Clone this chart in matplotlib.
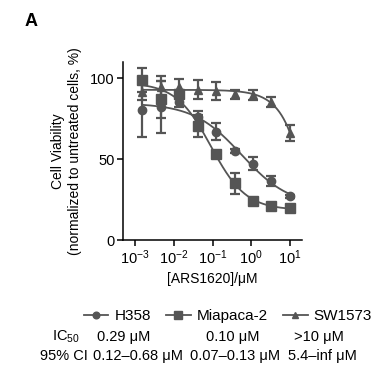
import numpy as np
import matplotlib
matplotlib.use("Agg")
import matplotlib.pyplot as plt
from matplotlib.lines import Line2D

plt.rcParams['font.family'] = ['Liberation Sans', 'DejaVu Sans']
plt.rcParams['mathtext.fontset'] = 'custom'
plt.rcParams['mathtext.rm'] = 'Liberation Sans'

# ---- data ----
conc = [0.00152, 0.00457, 0.0137, 0.0412, 0.123, 0.370, 1.11, 3.33, 10.0]
h358 = [80.5, 82, 85, 76, 67, 55, 47, 36.5, 27]
h358_err = [17, 16, 3, 4, 5, 1.5, 4, 3, 1]
mia = [99, 87, 90, 70.5, 53, 35, 24, 21, 20]
mia_err = [7.5, 11.5, 3, 7, 1.5, 6.5, 2, 1, 1]
sw = [91.5, 94.5, 94.5, 93, 92, 90, 89.5, 85.5, 66]
sw_err = [5, 7, 5, 6, 5.5, 3, 3, 3, 5]

series_names = ["H358", "Miapaca-2", "SW1573"]
ic50_text = ["0.29 μM", "0.10 μM", ">10 μM"]
ci_text = ["0.12–0.68 μM", "0.07–0.13 μM", "5.4–inf μM"]

color = "#555555"


def fit4pl(x, y):
    lx = np.log10(np.asarray(x))
    y = np.asarray(y, float)
    x0s = np.arange(-3.0, 2.5, 0.01)
    hs = np.arange(0.3, 3.0, 0.01)
    best = None
    for h in hs:
        s = 1.0 / (1.0 + 10 ** (h * (lx[None, :] - x0s[:, None])))
        a = 1 - s
        b = s
        saa = (a * a).sum(1); sbb = (b * b).sum(1); sab = (a * b).sum(1)
        say = (a * y).sum(1); sby = (b * y).sum(1)
        det = saa * sbb - sab ** 2
        bot = (sbb * say - sab * sby) / det
        top = (saa * sby - sab * say) / det
        res = ((bot[:, None] * a + top[:, None] * b - y[None, :]) ** 2).sum(1)
        i = np.argmin(res)
        if best is None or res[i] < best[0]:
            best = (res[i], bot[i], top[i], x0s[i], h)
    _, bot, top, x0, h = best
    return lambda xx: bot + (top - bot) / (1 + 10 ** (h * (np.log10(xx) - x0)))


fig = plt.figure(figsize=(3.92, 3.66), dpi=100)
ax = fig.add_axes([123 / 392, 126 / 366, 179 / 392, 178 / 366])

markers = ["o", "s", "^"]
msizes = [6, 6.5, 6]
ys = [h358, mia, sw]
errs = [h358_err, mia_err, sw_err]
xx = np.logspace(np.log10(conc[0]), np.log10(conc[-1]), 300)
for y, e, m, ms in zip(ys, errs, markers, msizes):
    f = fit4pl(conc, y)
    ax.plot(xx, f(xx), color=color, lw=1.3, zorder=2)
    ax.errorbar(conc, y, yerr=e, fmt=m, color=color, ms=ms, capsize=3.5,
                elinewidth=1.6, capthick=1.6, zorder=3)

ax.set_xscale('log')
ax.set_xlim(10 ** -3.31, 10 ** 1.31)
ax.set_ylim(0, 110)
ax.set_xticks([1e-3, 1e-2, 1e-1, 1, 10])
ax.set_xticklabels([r'$\mathregular{10^{-3}}$', r'$\mathregular{10^{-2}}$',
                    r'$\mathregular{10^{-1}}$', r'$\mathregular{10^{0}}$',
                    r'$\mathregular{10^{1}}$'])
ax.xaxis.set_minor_locator(matplotlib.ticker.NullLocator())
ax.set_yticks([0, 50, 100])
ax.tick_params(direction='out', length=4, width=1.1, labelsize=10.5, pad=2)
for s in ['top', 'right']:
    ax.spines[s].set_visible(False)
for s in ['left', 'bottom']:
    ax.spines[s].set_linewidth(1.1)

ax.set_xlabel('[ARS1620]/μM', fontsize=10, labelpad=4)
ax.set_ylabel('Cell Viability\n(normalized to untreated cells, %)', fontsize=10,
              labelpad=6, linespacing=1.25)

fig.text(25 / 392, 1 - 22 / 366, 'A', fontsize=13, fontweight='bold',
         ha='left', va='center')

# legend row
leg_handles = [Line2D([0], [0], color=color, marker=m, ms=ms * 0.8, lw=1.3)
               for m, ms in zip(markers, msizes)]
fig.legend(leg_handles, series_names, loc='center', ncol=3,
           bbox_to_anchor=(228 / 392, 1 - 316 / 366), frameon=False,
           fontsize=11, handlelength=1.6, handletextpad=0.4, columnspacing=1.0)

row1_y = 1 - 337 / 366
row2_y = 1 - 356 / 366
fig.text(80 / 392, row1_y, r'IC$_{\mathregular{50}}$', fontsize=10.5, ha='right', va='center')
fig.text(88 / 392, row2_y, '95% CI', fontsize=10.5, ha='right', va='center')
for cx, t in zip([124, 233, 319], ic50_text):
    fig.text(cx / 392, row1_y, t, fontsize=10.5, ha='center', va='center')
for cx, t in zip([138, 235, 322], ci_text):
    fig.text(cx / 392, row2_y, t, fontsize=10.5, ha='center', va='center')

fig.savefig('out.png', dpi=100)
